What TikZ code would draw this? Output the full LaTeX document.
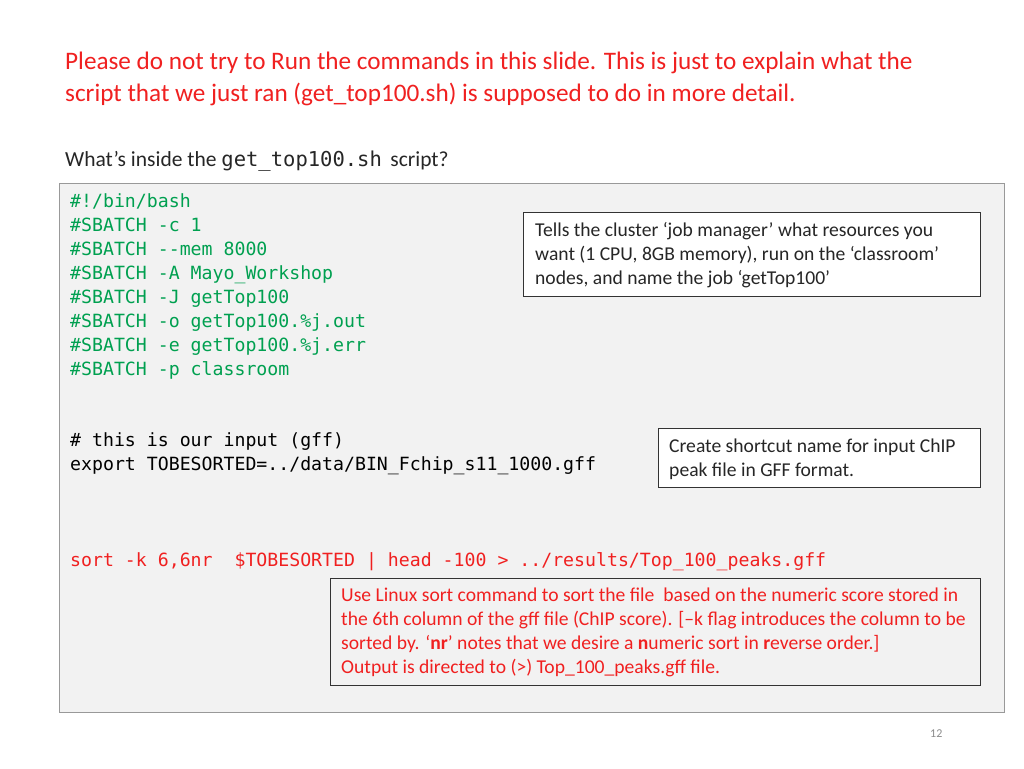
\documentclass[tikz,border=0pt]{standalone}
\usepackage{fontspec}
\setmainfont{Carlito}
\newfontfamily\codefont{DejaVu Sans Mono}
\definecolor{codegreen}{HTML}{00A050}
\definecolor{slidered}{HTML}{F02020}
\definecolor{bggray}{HTML}{F2F2F2}
\begin{document}
\begin{tikzpicture}[x=1pt,y=-1pt,
  ln/.style={anchor=base west,inner sep=0pt},
  title/.style={ln,text=slidered,font=\fontsize{25.2}{28}\selectfont},
  code/.style={ln,text=codegreen,font=\codefont\fontsize{18.2}{20}\selectfont},
  redcode/.style={code,text=slidered},
  blackcode/.style={code,text=black},
  note/.style={ln,font=\fontsize{19.6}{22}\selectfont,text=black!85},
  rnote/.style={note,text=slidered},
  notebox/.style={draw=black!80,line width=0.8pt}]
\useasboundingbox (0,0) rectangle (1024,768);
\fill[white] (0,0) rectangle (1024,768);
\node[title] (t1) at (65,70) {Please do not try to Run the commands in this slide. This is just to explain what the};
\node[title] (t2) at (65,101) {script that we just ran (get\_top100.sh) is supposed to do in more detail.};
\node[ln,font=\fontsize{21.5}{24}\selectfont,text=black!85] (q) at (65,166) {What’s inside the {\codefont\fontsize{20.5}{22}\selectfont get\_top100.sh}\, script?};
\draw[fill=bggray,draw=black!40,line width=1pt] (59,183) rectangle (1004,712);
\foreach \t [count=\i from 0] in {\#!/bin/bash,\#SBATCH -c 1,\#SBATCH --mem 8000,\#SBATCH -A Mayo\_Workshop,\#SBATCH -J getTop100,\#SBATCH -o getTop100.\%j.out,\#SBATCH -e getTop100.\%j.err,\#SBATCH -p classroom}
  \node[code] (c\i) at (70,207+24*\i) {\t};
\node[blackcode] (in1) at (70,446) {\# this is our input (gff)};
\node[blackcode] (in2) at (70,470) {export TOBESORTED=../data/BIN\_Fchip\_s11\_1000.gff};
\node[redcode] (srt) at (70,566) {sort -k 6,6nr\ \ \$TOBESORTED | head -100 > ../results/Top\_100\_peaks.gff};
% box 1
\draw[notebox,fill=white] (523,212) rectangle (980,296);
\node[note] (b1a) at (535,236) {Tells the cluster ‘job manager’ what resources you};
\node[note] (b1b) at (535,260) {want (1 CPU, 8GB memory), run on the ‘classroom’};
\node[note] (b1c) at (535,284) {nodes, and name the job ‘getTop100’};
% box 2
\draw[notebox,fill=white] (658,428) rectangle (980,487);
\node[note] (b2a) at (669,452) {Create shortcut name for input ChIP};
\node[note] (b2b) at (669,476) {peak file in GFF format.};
% box 3
\draw[notebox] (330,578) rectangle (980,685);
\node[rnote] (b3a) at (341,601) {Use Linux sort command to sort the file\ \ based on the numeric score stored in};
\node[rnote] (b3b) at (341,625) {the 6th column of the gff file (ChIP score). [–k flag introduces the column to be};
\node[rnote] (b3c) at (341,649) {sorted by. ‘\textbf{nr}’ notes that we desire a \textbf{n}umeric sort in \textbf{r}everse order.]};
\node[rnote] (b3d) at (341,673) {Output is directed to (>) Top\_100\_peaks.gff file.};
\node[ln,font=\fontsize{12}{13}\selectfont,text=black!45] (pg) at (930,737) {12};
\end{tikzpicture}
\end{document}
